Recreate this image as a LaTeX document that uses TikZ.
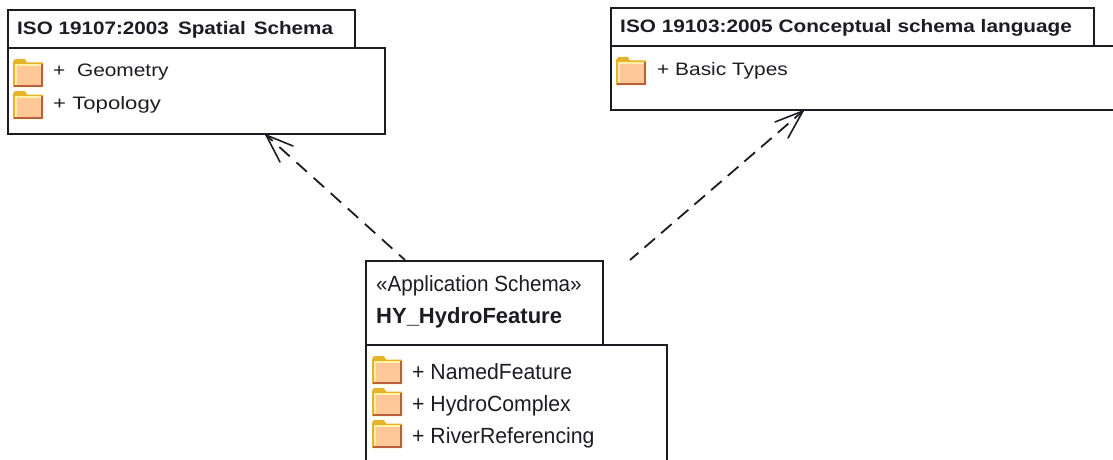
\documentclass[tikz,border=0pt]{standalone}
\usepackage{fontspec}
\setmainfont{Liberation Sans}
\usetikzlibrary{arrows.meta}
\definecolor{ink}{HTML}{1C1C24}
\definecolor{foldfill}{HTML}{FFC896}
\definecolor{foldgold}{HTML}{E6B428}
\definecolor{foldpale}{HTML}{FFEFA8}
\definecolor{foldbrown}{HTML}{B8603A}
\tikzset{
  x=1pt,y=-1pt,
  box/.style={draw=ink,line width=1.6pt,fill=white,inner sep=0pt,outer sep=0pt,anchor=north west},
  titletext/.style={font=\bfseries\fontsize{18pt}{20pt}\selectfont,text=ink,anchor=base west,inner sep=0pt,xscale=1.155,transform shape},
  itemtext/.style={font=\fontsize{18pt}{20pt}\selectfont,text=ink,anchor=base west,inner sep=0pt,xscale=1.16,transform shape},
  bigitem/.style={font=\fontsize{22pt}{24pt}\selectfont,text=ink,anchor=base west,inner sep=0pt,xscale=.965,transform shape},
  dep/.style={draw=ink,line width=1.8pt},
  dephead/.style={draw=ink,line width=1.6pt,line cap=round},
  pics/folder/.style={code={
    \fill[foldgold] (0,3) -- (2,0) -- (12,0) -- (14,3.5) -- (30,3.5) -- (30,28) -- (0,28) -- cycle;
    \fill[foldpale] (1.5,5) rectangle (28,26);
    \fill[foldfill] (3.5,7) rectangle (28,25.5);
    \draw[foldbrown,line width=1.8pt] (29,5) -- (29,27.1) -- (1,27.1);
  }}
}
\begin{document}
\begin{tikzpicture}
\useasboundingbox (0,0) rectangle (1113,460);
% left package
\node[box,minimum width=347pt,minimum height=38pt] (tab1) at (8,10) {};
\node[box,minimum width=377pt,minimum height=86pt] (body1) at (8,48) {};
\node[titletext,xscale=.994] (t1) at (17,34.5) {ISO 19107:2003\hspace{3pt} Spatial\hspace{2pt} Schema};
\pic at (13,59) {folder};
\pic at (13,91) {folder};
\node[itemtext] (i1) at (53,77) {+\hspace{5pt} Geometry};
\node[itemtext,xscale=1.06] (i2) at (53,109) {+ Topology};
% right package
\node[box,minimum width=483pt,minimum height=38pt] (tab2) at (611,8) {};
\node[box,minimum width=510pt,minimum height=64pt] (body2) at (611,46) {};
\node[titletext] (t2) at (620,33) {ISO 19103:2005 Conceptual schema language};
\pic at (616,57) {folder};
\node[itemtext] (i3) at (657,75) {+ Basic Types};
% lower package
\node[box,minimum width=237pt,minimum height=84pt] (tab3) at (366,261) {};
\node[box,minimum width=301pt,minimum height=125pt] (body3) at (366,345) {};
\node[bigitem,xscale=.973] (s3) at (376,291) {«Application Schema»};
\node[font=\bfseries\fontsize{22pt}{24pt}\selectfont,text=ink,anchor=base west,inner sep=0pt] (t3) at (376,323) {HY\_HydroFeature};
\pic at (372,356) {folder};
\pic at (372,388) {folder};
\pic at (372,420) {folder};
\node[bigitem] (i4) at (412,379) {+ NamedFeature};
\node[bigitem] (i5) at (412,411) {+ HydroComplex};
\node[bigitem] (i6) at (412,443) {+ RiverReferencing};
% connectors
\coordinate (a1) at (405,260);
\coordinate (h1) at (266,135);
\coordinate (a2) at (630,260);
\coordinate (h2) at (803,111);
\coordinate (w1a) at (293,146);
\coordinate (w1b) at (280,162);
\coordinate (w2a) at (775,122);
\coordinate (w2b) at (788,138);
\draw[dep,dash pattern=on 14pt off 9pt,dash phase=6pt] (a1) -- (h1);
\draw[dep,dash pattern=on 14pt off 8pt,dash phase=3pt] (a2) -- (h2);
\draw[dephead] (w1a) -- (h1) -- (w1b);
\draw[dephead] (w2a) -- (h2) -- (w2b);
\end{tikzpicture}
\end{document}
